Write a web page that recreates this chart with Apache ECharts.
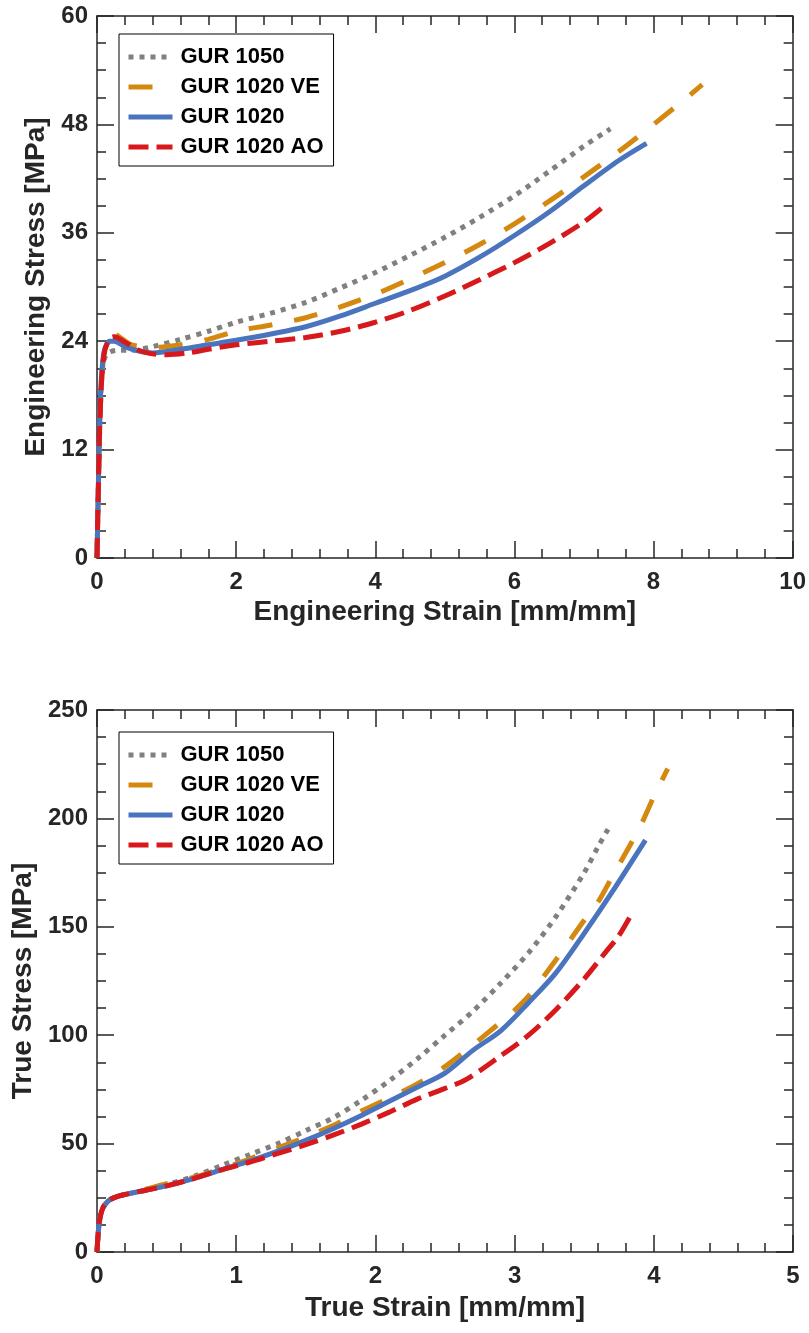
<!DOCTYPE html>
<html>
<head>
<meta charset="utf-8">
<script src="https://cdn.jsdelivr.net/npm/echarts@6/dist/echarts.min.js"></script>
<style>
html,body{margin:0;padding:0;background:#fff;}
#chart{width:809px;height:1333px;}
</style>
</head>
<body>
<div id="chart"></div>
<script>
// ---------- Series names ----------
const seriesNames = ['GUR 1050', 'GUR 1020 VE', 'GUR 1020', 'GUR 1020 AO'];

// ---------- Top chart: engineering strain / stress ----------
const engStrain1050 = [0, 0.02, 0.05, 0.08, 0.12, 0.18, 0.3, 0.5, 0.8, 1.2, 1.6, 2.0, 2.5, 3.0, 3.5, 4.0, 4.5, 5.0, 5.5, 6.0, 6.5, 7.0, 7.38];
const engStress1050 = [0, 8, 17, 21, 22.3, 22.8, 23.0, 23.0, 23.4, 24.2, 25.1, 26.1, 27.1, 28.3, 29.9, 31.6, 33.5, 35.5, 37.7, 40.1, 42.8, 45.6, 47.5];

const engStrainVE = [0, 0.02, 0.05, 0.1, 0.18, 0.25, 0.35, 0.5, 0.8, 1.2, 1.6, 2.0, 2.5, 3.0, 3.5, 4.0, 4.5, 5.0, 5.5, 6.0, 6.5, 7.0, 7.5, 8.0, 8.5, 8.7];
const engStressVE = [0, 8, 17, 22.5, 24.5, 24.8, 24.3, 23.6, 23.3, 23.6, 24.2, 25.1, 25.8, 26.6, 27.8, 29.2, 30.9, 32.7, 34.7, 37.0, 39.5, 42.2, 45.0, 48.0, 51.1, 52.4];

const engStrain1020 = [0, 0.02, 0.05, 0.1, 0.18, 0.25, 0.4, 0.6, 0.8, 1.2, 1.6, 2.0, 2.5, 3.0, 3.5, 4.0, 4.5, 5.0, 5.5, 6.0, 6.5, 7.0, 7.5, 7.9];
const engStress1020 = [0, 8, 18, 22.8, 24.0, 24.0, 23.4, 22.9, 22.7, 23.1, 23.6, 24.1, 24.8, 25.6, 26.8, 28.2, 29.6, 31.2, 33.3, 35.7, 38.3, 41.2, 44.0, 45.9];

const engStrainAO = [0, 0.02, 0.05, 0.1, 0.18, 0.25, 0.4, 0.6, 0.8, 1.0, 1.3, 1.6, 2.0, 2.5, 3.0, 3.5, 4.0, 4.5, 5.0, 5.5, 6.0, 6.5, 7.0, 7.25];
const engStressAO = [0, 8, 17, 22.5, 24.3, 24.5, 23.9, 23.0, 22.6, 22.5, 22.7, 23.1, 23.6, 24.0, 24.4, 25.1, 26.1, 27.4, 29.0, 30.8, 32.7, 34.8, 37.2, 38.7];

// ---------- Bottom chart: true strain / stress ----------
const trueStrain1050 = [0, 0.015, 0.04, 0.08, 0.12, 0.2, 0.35, 0.5, 0.7, 0.9, 1.1, 1.3, 1.5, 1.7, 1.9, 2.1, 2.3, 2.5, 2.7, 2.9, 3.1, 3.3, 3.5, 3.6, 3.68];
const trueStress1050 = [0, 13, 20, 23.5, 25, 26.5, 28.5, 31, 35, 40, 45, 50, 56, 62, 70, 79, 89, 100, 111, 124, 138, 155, 175, 187, 196];

const trueStrainVE = [0, 0.015, 0.04, 0.08, 0.12, 0.2, 0.35, 0.5, 0.7, 0.9, 1.1, 1.3, 1.5, 1.7, 1.9, 2.1, 2.3, 2.5, 2.7, 2.9, 3.0, 3.1, 3.3, 3.5, 3.6, 3.7, 3.9, 4.0, 4.1];
const trueStressVE = [0, 13, 20, 23.5, 25, 26.8, 29, 31.5, 34.5, 38.5, 43, 48, 53, 58.5, 65, 71, 77.5, 85.5, 95.5, 106, 111.5, 118, 135, 153, 161.5, 173, 196, 210, 223];

const trueStrain1020 = [0, 0.015, 0.04, 0.08, 0.12, 0.2, 0.35, 0.5, 0.7, 0.9, 1.1, 1.3, 1.5, 1.7, 1.9, 2.1, 2.3, 2.5, 2.7, 2.9, 3.1, 3.3, 3.5, 3.7, 3.94];
const trueStress1020 = [0, 13, 20, 23.5, 25, 26.5, 28.5, 30.5, 34, 38, 42, 46.5, 51.5, 57, 63, 69.5, 76, 82.5, 93, 102, 115, 129, 147, 166, 190];

const trueStrainAO = [0, 0.015, 0.04, 0.08, 0.12, 0.2, 0.35, 0.5, 0.7, 0.9, 1.1, 1.3, 1.5, 1.7, 1.9, 2.1, 2.3, 2.5, 2.65, 2.9, 3.1, 3.3, 3.5, 3.65, 3.75, 3.85];
const trueStressAO = [0, 13, 20, 23.5, 25, 26.5, 28.5, 30.5, 34, 38, 41.5, 45.5, 49.5, 54, 59, 64.5, 70.5, 75.5, 79.5, 90.5, 100, 112, 126, 138, 146, 157];

// ---------- Axis ticks ----------
const engStrainTicks = {min: 0, max: 10, interval: 2};
const engStressTicks = {min: 0, max: 60, interval: 12};
const trueStrainTicks = {min: 0, max: 5, interval: 1};
const trueStressTicks = {min: 0, max: 250, interval: 50};

const axisTitles = {
  engX: 'Engineering Strain [mm/mm]',
  engY: 'Engineering Stress [MPa]',
  trueX: 'True Strain [mm/mm]',
  trueY: 'True Stress [MPa]'
};

// ---------- Styles ----------
const FONT = '"Liberation Sans", Arial, Helvetica, sans-serif';
const AXIS_COLOR = '#262626';
const styles = [
  {color: '#808080', type: [5, 6]},
  {color: '#d4880f', type: [24, 22]},
  {color: '#4a74be', type: 'solid'},
  {color: '#d7191c', type: [20, 8]}
];

const pairs = (xs, ys) => xs.map((x, i) => [x, ys[i]]);

function axis(pos, grid, ticks, labels, splitN, title, nameGap) {
  return {
    type: 'value', gridIndex: grid, position: pos,
    min: ticks.min, max: ticks.max, interval: ticks.interval,
    name: title || '', nameLocation: 'middle', nameGap: nameGap || 0,
    nameTextStyle: {fontFamily: FONT, fontWeight: 'bold', fontSize: 28, color: AXIS_COLOR},
    axisLine: {show: true, onZero: false, lineStyle: {color: AXIS_COLOR, width: 1.5}},
    axisTick: {show: true, inside: true, length: 17, lineStyle: {color: AXIS_COLOR, width: 1.5}},
    minorTick: {show: true, splitNumber: splitN, length: 9, lineStyle: {color: AXIS_COLOR, width: 1.5}},
    splitLine: {show: false}, minorSplitLine: {show: false},
    axisLabel: {show: labels, fontFamily: FONT, fontWeight: 'bold', fontSize: 24, color: AXIS_COLOR,
      margin: (pos === 'bottom') ? 12 : 9}
  };
}

const xAxes = [
  axis('bottom', 0, engStrainTicks, true, 5, axisTitles.engX, 40),
  axis('top', 0, engStrainTicks, false, 5),
  axis('bottom', 1, trueStrainTicks, true, 5, axisTitles.trueX, 42),
  axis('top', 1, trueStrainTicks, false, 5)
];
const yAxes = [
  axis('left', 0, engStressTicks, true, 4, axisTitles.engY, 40),
  axis('right', 0, engStressTicks, false, 4),
  axis('left', 1, trueStressTicks, true, 4, axisTitles.trueY, 54),
  axis('right', 1, trueStressTicks, false, 4)
];

const topData = [pairs(engStrain1050, engStress1050), pairs(engStrainVE, engStressVE), pairs(engStrain1020, engStress1020), pairs(engStrainAO, engStressAO)];
const botData = [pairs(trueStrain1050, trueStress1050), pairs(trueStrainVE, trueStressVE), pairs(trueStrain1020, trueStress1020), pairs(trueStrainAO, trueStressAO)];

const series = [];
[topData, botData].forEach((set, g) => {
  set.forEach((d, i) => {
    series.push({
      name: seriesNames[i], type: 'line', data: d,
      xAxisIndex: g * 2, yAxisIndex: g * 2,
      showSymbol: false, symbol: 'none', smooth: 0.3,
      lineStyle: {color: styles[i].color, width: 5, type: styles[i].type, cap: 'butt'},
      itemStyle: {color: styles[i].color},
      z: 2 + i, silent: true, animation: false
    });
  });
});

function legend(top) {
  return {
    orient: 'vertical', left: 119, top: top,
    backgroundColor: '#fff', borderColor: '#000', borderWidth: 1,
    padding: [12, 10, 8, 7],
    itemWidth: 44, itemHeight: 14, itemGap: 8,
    textStyle: {fontFamily: FONT, fontWeight: 'bold', fontSize: 22, color: '#000', lineHeight: 22, padding: [0, 0, 0, 3]},
    itemStyle: {opacity: 0},
    lineStyle: {width: 5},
    data: seriesNames.map((n, i) => ({
      name: n,
      itemStyle: {opacity: 0},
      lineStyle: {color: styles[i].color, width: 5, type: styles[i].type, opacity: 1}
    })),
    selectedMode: false
  };
}

const chart = echarts.init(document.getElementById('chart'));
chart.setOption({
  backgroundColor: '#fff',
  animation: false,
  grid: [
    {left: 97, right: 16, top: 16, height: 542},
    {left: 97, right: 16, top: 710, height: 542}
  ],
  xAxis: xAxes,
  yAxis: yAxes,
  legend: [legend(34), legend(732)],
  series: series
});
</script>
</body>
</html>
